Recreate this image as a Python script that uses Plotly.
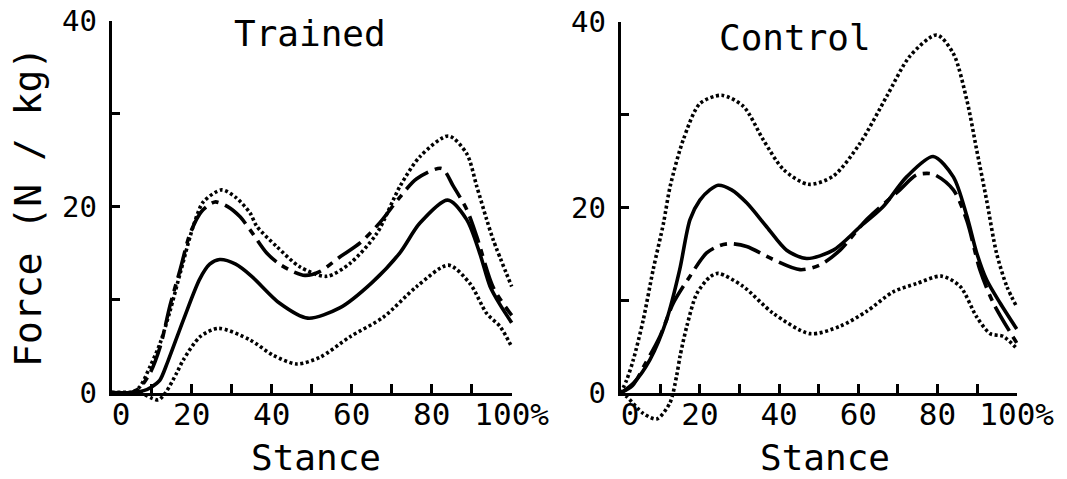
import plotly.graph_objects as go

# ---------------- data ----------------
# Trained panel
tr_mean_x = [0, 5, 8, 10, 12, 14, 18, 22, 24.5, 27, 31, 35, 42, 49, 57, 65, 72, 77, 84, 88.75, 92, 94.6, 97, 100]
tr_mean_y = [0, 0, 0.2, 0.6, 1.3, 3.3, 7.9, 12.2, 13.8, 14.3, 13.8, 12.5, 9.6, 8.0, 9.1, 11.8, 15.0, 18.2, 20.7, 18.6, 15.0, 11.4, 9.5, 7.5]

tr_dash_x = [0, 5, 7, 9.6, 12.1, 14.6, 17.1, 19.6, 22.5, 25.8, 29, 32.1, 34.6, 38.75, 42, 45.4, 48.3, 52, 57.1, 62.1, 67.1, 72, 76.25, 82.5, 85.4, 88.75, 91.25, 95.4, 100]
tr_dash_y = [0, 0, 0.5, 2.1, 4.9, 9.4, 13.2, 17.1, 19.5, 20.5, 20.0, 18.9, 17.5, 15.0, 13.8, 13.0, 12.6, 13.0, 14.6, 16.1, 18.3, 21.0, 23.0, 24.1, 22.2, 19.7, 16.8, 11.3, 8.3]

tr_up_x = [0, 5, 7, 9.6, 12.1, 14.6, 17.1, 20.4, 22.9, 27.5, 31, 34.6, 36.25, 41.25, 47.1, 53.75, 59.6, 66.25, 72.1, 77.1, 84.2, 88.75, 91.25, 93.75, 95.4, 100]
tr_up_y = [0, 0, 0.6, 2.8, 5.3, 8.8, 12.8, 17.9, 20.5, 21.8, 21.0, 19.3, 17.9, 15.7, 13.5, 12.5, 13.9, 17.1, 22.2, 25.4, 27.6, 25.7, 22.2, 18.6, 16.4, 11.4]

tr_lo_x = [0, 5, 8, 10, 11.7, 13.5, 16.25, 17.9, 22.1, 26.7, 34.6, 40.4, 46.25, 52.1, 59.6, 67.9, 76.25, 84.2, 89.6, 93.75, 97.1, 100]
tr_lo_y = [0, 0, -0.2, -0.6, -0.8, 0.0, 2.1, 3.5, 6.0, 6.9, 5.65, 4.0, 3.07, 3.8, 6.0, 8.1, 11.4, 13.7, 11.7, 8.5, 7.1, 4.9]

# Control panel
co_mean_x = [0, 3.2, 7.4, 11.6, 14.9, 17.5, 20, 22.5, 24.6, 28, 31.8, 36.9, 41.9, 46.97, 53.7, 60.4, 66.3, 72.2, 78.9, 84, 87.4, 89.9, 92.4, 95.8, 100]
co_mean_y = [0, 1.05, 3.6, 7.9, 13.3, 18.7, 20.8, 21.9, 22.4, 21.9, 20.5, 17.9, 15.4, 14.5, 15.4, 17.9, 20.1, 23.3, 25.5, 23.3, 19.1, 15.1, 12.2, 9.7, 6.9]

co_dash_x = [0, 3, 6, 9.9, 13.3, 17.5, 21.7, 25, 27.6, 31.8, 38.5, 45.3, 50.3, 55.4, 62.1, 70.5, 74.7, 78.9, 84, 87.4, 90.7, 94.1, 100]
co_dash_y = [0, 0.8, 3.0, 6.1, 9.7, 12.6, 15.1, 15.9, 16.1, 15.8, 14.4, 13.3, 13.8, 15.4, 18.7, 21.9, 23.5, 23.6, 21.9, 18.6, 13.3, 9.7, 5.4]

co_up_x = [0, 1.5, 3.2, 5.7, 8.2, 10.8, 12.5, 15.8, 20, 25.5, 31, 36, 41.1, 47.4, 53.7, 60.4, 67.2, 73, 79.8, 84, 87.4, 89.9, 92.4, 94.9, 97.5, 100]
co_up_y = [0, 1.4, 3.6, 7.9, 13.3, 18.3, 22.3, 27.3, 31.2, 32.1, 30.9, 27.3, 24.1, 22.5, 23.4, 26.9, 32.0, 36.3, 38.6, 36.6, 31.6, 26.2, 20.8, 15.1, 11.5, 9.3]

co_lo_x = [0, 1.5, 5.7, 9.1, 12.4, 14.1, 15.0, 16.7, 19.2, 22.5, 24.6, 30.9, 38.5, 47.8, 55.4, 62.1, 68.8, 74.7, 81, 85.7, 89.9, 93.3, 96.6, 100]
co_lo_y = [0, -0.4, -2.2, -2.8, -1.1, 1.8, 4.0, 7.2, 10.7, 12.5, 12.9, 11.5, 8.6, 6.4, 7.2, 8.8, 10.9, 11.8, 12.6, 11.5, 8.2, 6.4, 6.1, 4.8]

x_tickvals = [0, 10, 20, 30, 40, 50, 60, 70, 80, 90, 100]
x_ticktext = ["\u00a00", "", "20", "", "40", "", "60", "", "80", "", "100%"]
y_tickvals = [0, 10, 20, 30, 40]
y_ticktext = ["0", "", "20", "", "40"]

panel_titles = ["Trained", "Control"]
x_title = "Stance"
y_title = "Force (N / kg)"

# ---------------- layout geometry (pixels) ----------------
W, H = 1067, 479
FONT = "DejaVu Sans Mono"

def px_x(p):
    return p / W

def px_y(p):
    return 1 - p / H

panels = [
    dict(x0=111.7, x1=511.7, y0=392.5, y1=20.7),
    dict(x0=620.7, x1=1016.7, y0=393.0, y1=22.0),
]

fig = go.Figure()

line_styles = {
    "mean": dict(color="black", width=3.6, dash="solid"),
    "dash": dict(color="black", width=3.6, dash="28px,7px,7px,7px"),
    "dot": dict(color="black", width=3.6, dash="3px,2.6px"),
}

series = [
    [(tr_lo_x, tr_lo_y, "dot"), (tr_up_x, tr_up_y, "dot"), (tr_dash_x, tr_dash_y, "dash"), (tr_mean_x, tr_mean_y, "mean")],
    [(co_lo_x, co_lo_y, "dot"), (co_up_x, co_up_y, "dot"), (co_dash_x, co_dash_y, "dash"), (co_mean_x, co_mean_y, "mean")],
]

layout_axes = {}
XPAD, YLOW = 3, -6
for i, p in enumerate(panels):
    ax_n = i + 1
    dt_n = i + 3
    sx = "" if ax_n == 1 else str(ax_n)
    xs = (p["x1"] - p["x0"]) / 100.0
    ys = (p["y0"] - p["y1"]) / 40.0
    axis_style = dict(showline=True, linewidth=3, linecolor="black", ticks="inside",
                      tickwidth=3, tickcolor="black", showgrid=False, zeroline=False,
                      fixedrange=True, automargin=False)
    layout_axes["xaxis" + sx] = dict(
        domain=[px_x(p["x0"]), px_x(p["x1"])], range=[0, 100], anchor="y" + sx,
        tickvals=x_tickvals, ticktext=x_ticktext, ticklen=9, ticklabelstandoff=-8,
        tickfont=dict(family=FONT, size=31, color="black"), **axis_style)
    layout_axes["yaxis" + sx] = dict(
        domain=[px_y(p["y0"]), px_y(p["y1"])], range=[0, 40], anchor="x" + sx,
        tickvals=y_tickvals, ticktext=y_ticktext, ticklen=8, ticklabelstandoff=6,
        tickfont=dict(family=FONT, size=29, color="black"), **axis_style)
    layout_axes[f"xaxis{dt_n}"] = dict(
        domain=[px_x(p["x0"] - XPAD * xs), px_x(p["x1"] + XPAD * xs)], range=[-XPAD, 100 + XPAD],
        anchor=f"y{dt_n}", visible=False, fixedrange=True, automargin=False)
    layout_axes[f"yaxis{dt_n}"] = dict(
        domain=[px_y(p["y0"] - YLOW * ys), px_y(p["y1"])], range=[YLOW, 40],
        anchor=f"x{dt_n}", visible=False, fixedrange=True, automargin=False)
    # empty trace so the frame subplot (axes only) is registered and drawn
    fig.add_trace(go.Scatter(x=[None], y=[None], mode="lines", xaxis="x" + sx, yaxis="y" + sx,
                             showlegend=False, hoverinfo="skip"))
    for xv, yv, st in series[i]:
        fig.add_trace(go.Scatter(x=xv, y=yv, mode="lines",
                                 line=dict(shape="spline", smoothing=0.8, **line_styles[st]),
                                 xaxis=f"x{dt_n}", yaxis=f"y{dt_n}", showlegend=False, hoverinfo="skip"))

annotations = [
    dict(text=panel_titles[0], x=px_x(310), y=px_y(34), xref="paper", yref="paper", showarrow=False,
         font=dict(family=FONT, size=36, color="black"), xanchor="center", yanchor="middle"),
    dict(text=panel_titles[1], x=px_x(795), y=px_y(37), xref="paper", yref="paper", showarrow=False,
         font=dict(family=FONT, size=36, color="black"), xanchor="center", yanchor="middle"),
    dict(text=x_title, x=px_x(316), y=px_y(457), xref="paper", yref="paper", showarrow=False,
         font=dict(family=FONT, size=36, color="black"), xanchor="center", yanchor="middle"),
    dict(text=x_title, x=px_x(825), y=px_y(457), xref="paper", yref="paper", showarrow=False,
         font=dict(family=FONT, size=36, color="black"), xanchor="center", yanchor="middle"),
    dict(text=y_title, x=px_x(28), y=px_y(207), xref="paper", yref="paper", showarrow=False, textangle=-90,
         font=dict(family=FONT, size=38, color="black"), xanchor="center", yanchor="middle"),
]

fig.update_layout(width=W, height=H, margin=dict(l=0, r=0, t=0, b=0, autoexpand=False),
                  paper_bgcolor="white", plot_bgcolor="rgba(0,0,0,0)",
                  annotations=annotations, **layout_axes)

fig.write_html("out.html", config={"displayModeBar": False},
               post_script="document.body.style.margin='0px';")
